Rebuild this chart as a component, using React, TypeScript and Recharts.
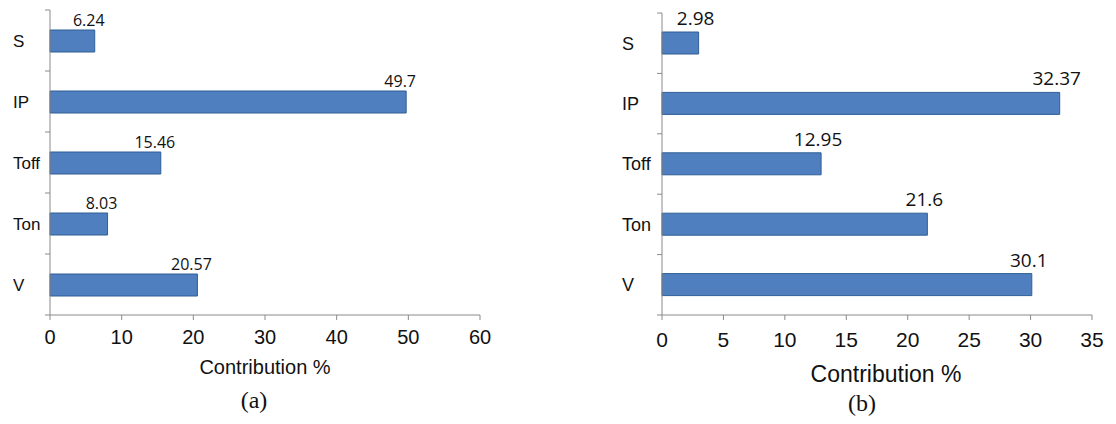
import React from 'react'
import { BarChart, Bar, XAxis, YAxis, LabelList } from 'recharts'

const factors = ['S', 'IP', 'Toff', 'Ton', 'V']
const contribA = [6.24, 49.7, 15.46, 8.03, 20.57]
const contribB = [2.98, 32.37, 12.95, 21.6, 30.1]
const ticksA = [0, 10, 20, 30, 40, 50, 60]
const ticksB = [0, 5, 10, 15, 20, 25, 30, 35]

const dataA = factors.map((f, i) => ({ name: f, value: contribA[i] }))
const dataB = factors.map((f, i) => ({ name: f, value: contribB[i] }))

const BAR_FILL = '#4f7fbe'
const BAR_STROKE = '#2f5f96'
const AXIS = '#8a8a8a'
const INK = '#111'
const SANS = '"Liberation Sans", Arial, sans-serif'
const LABEL_FONT = '"Open Sans", "Noto Sans", sans-serif'

// category tick: left-aligned label plus Excel-style tick marks between bands
function CatTick(props: any) {
  const { y, payload, index, labelX, axisX, band, count, fontSize } = props
  return (
    <g>
      <text x={labelX} y={y} dy="0.36em" textAnchor="start" fontSize={fontSize} fontFamily={SANS} fill={INK}>
        {payload.value}
      </text>
      <line x1={axisX - 5} x2={axisX} y1={y - band / 2} y2={y - band / 2} stroke={AXIS} />
      {index === count - 1 && (
        <line x1={axisX - 5} x2={axisX} y1={y + band / 2} y2={y + band / 2} stroke={AXIS} />
      )}
    </g>
  )
}

function valueLabel(shift: number, lift: number, fontSize: number) {
  return (p: any) => (
    <text
      x={p.x + p.width + shift}
      y={p.y - lift}
      textAnchor="middle"
      fontSize={fontSize}
      fontFamily={LABEL_FONT}
      fill={INK}
    >
      {p.value}
    </text>
  )
}

interface PanelProps {
  data: { name: string; value: number }[]
  ticks: number[]
  width: number
  height: number
  top: number
  yWidth: number
  xHeight: number
  right: number
  labelX: number
  catFont: number
  tickFont: number
  tickMargin: number
  valueFont: number
  valueShift: number
  valueLift: number
  titleFont: number
  titleOffset: number
  titleDx: number
}

function Panel(p: PanelProps) {
  const plotH = p.height - p.top - p.xHeight
  const band = plotH / p.data.length
  return (
    <BarChart
      width={p.width}
      height={p.height}
      data={p.data}
      layout="vertical"
      margin={{ top: p.top, right: p.right, bottom: 0, left: 0 }}
      barCategoryGap={0}
    >
      <XAxis
        type="number"
        domain={[p.ticks[0], p.ticks[p.ticks.length - 1]]}
        ticks={p.ticks}
        height={p.xHeight}
        interval={0}
        stroke={AXIS}
        tickSize={5}
        tickMargin={p.tickMargin}
        tick={{ fill: INK, fontSize: p.tickFont, fontFamily: SANS }}
        label={{
          value: 'Contribution %',
          position: 'insideBottom',
          offset: p.titleOffset,
          dx: p.titleDx,
          fill: INK,
          fontSize: p.titleFont,
          fontFamily: SANS,
        }}
      />
      <YAxis
        type="category"
        dataKey="name"
        width={p.yWidth}
        stroke={AXIS}
        tickLine={false}
        interval={0}
        tick={(tp: any) => (
          <CatTick
            {...tp}
            labelX={p.labelX}
            axisX={p.yWidth}
            band={band}
            count={p.data.length}
            fontSize={p.catFont}
          />
        )}
      />
      <Bar dataKey="value" fill={BAR_FILL} stroke={BAR_STROKE} strokeWidth={1} barSize={22} isAnimationActive={false}>
        <LabelList dataKey="value" content={valueLabel(p.valueShift, p.valueLift, p.valueFont)} />
      </Bar>
    </BarChart>
  )
}

const serifCaption: React.CSSProperties = {
  position: 'absolute',
  width: 80,
  textAlign: 'center',
  fontFamily: '"Liberation Serif", "Times New Roman", serif',
  fontSize: 24,
  lineHeight: '28px',
  color: INK,
}

export default function App() {
  return (
    <div style={{ position: 'absolute', left: 0, top: 0, width: 1116, height: 424, background: '#fff' }}>
      <div style={{ position: 'absolute', left: 0, top: 0 }}>
        <Panel
          data={dataA}
          ticks={ticksA}
          width={500}
          height={380}
          top={10}
          yWidth={50}
          xHeight={65}
          right={20}
          labelX={13}
          catFont={17}
          tickFont={20}
          tickMargin={10}
          valueFont={16}
          valueShift={-6}
          valueLift={4}
          titleFont={20}
          titleOffset={6}
          titleDx={0}
        />
      </div>
      <div style={{ position: 'absolute', left: 600, top: 0 }}>
        <Panel
          data={dataB}
          ticks={ticksB}
          width={512}
          height={390}
          top={13}
          yWidth={62}
          xHeight={75}
          right={20}
          labelX={22}
          catFont={18}
          tickFont={21}
          tickMargin={12}
          valueFont={19}
          valueShift={-3}
          valueLift={7}
          titleFont={23}
          titleOffset={8}
          titleDx={9}
        />
      </div>
      <div style={{ ...serifCaption, left: 214, top: 386 }}>(a)</div>
      <div style={{ ...serifCaption, left: 822, top: 389 }}>(b)</div>
    </div>
  )
}
